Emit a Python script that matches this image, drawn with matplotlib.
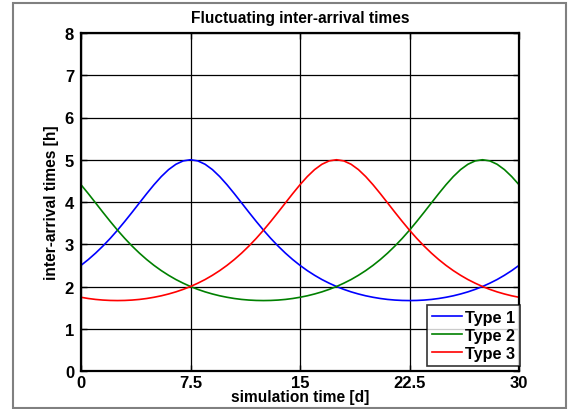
import numpy as np
import matplotlib
matplotlib.use('Agg')
import matplotlib.pyplot as plt
from matplotlib.patches import Rectangle

# inter-arrival times [h] sampled every half day over the 30 day run
t_days = [0.5 * i for i in range(61)]

type1 = [2.5, 2.638, 2.790, 2.957, 3.138, 3.333, 3.541, 3.757, 3.978, 4.198,
         4.409, 4.602, 4.767, 4.893, 4.973, 5.0, 4.973, 4.893, 4.767, 4.602,
         4.409, 4.198, 3.978, 3.757, 3.541, 3.333, 3.138, 2.957, 2.790, 2.638,
         2.5, 2.376, 2.265, 2.165, 2.078, 2.0, 1.932, 1.873, 1.823, 1.780,
         1.745, 1.716, 1.694, 1.679, 1.670, 1.667, 1.670, 1.679, 1.694, 1.716,
         1.745, 1.780, 1.823, 1.873, 1.932, 2.0, 2.078, 2.165, 2.265, 2.376,
         2.5]

type2 = [4.409, 4.198, 3.978, 3.757, 3.541, 3.333, 3.138, 2.957, 2.790, 2.638,
         2.5, 2.376, 2.265, 2.165, 2.078, 2.0, 1.932, 1.873, 1.823, 1.780,
         1.745, 1.716, 1.694, 1.679, 1.670, 1.667, 1.670, 1.679, 1.694, 1.716,
         1.745, 1.780, 1.823, 1.873, 1.932, 2.0, 2.078, 2.165, 2.265, 2.376,
         2.5, 2.638, 2.790, 2.957, 3.138, 3.333, 3.541, 3.757, 3.978, 4.198,
         4.409, 4.602, 4.767, 4.893, 4.973, 5.0, 4.973, 4.893, 4.767, 4.602,
         4.409]

type3 = [1.745, 1.716, 1.694, 1.679, 1.670, 1.667, 1.670, 1.679, 1.694, 1.716,
         1.745, 1.780, 1.823, 1.873, 1.932, 2.0, 2.078, 2.165, 2.265, 2.376,
         2.5, 2.638, 2.790, 2.957, 3.138, 3.333, 3.541, 3.757, 3.978, 4.198,
         4.409, 4.602, 4.767, 4.893, 4.973, 5.0, 4.973, 4.893, 4.767, 4.602,
         4.409, 4.198, 3.978, 3.757, 3.541, 3.333, 3.138, 2.957, 2.790, 2.638,
         2.5, 2.376, 2.265, 2.165, 2.078, 2.0, 1.932, 1.873, 1.823, 1.780,
         1.745]

series_names = ['Type 1', 'Type 2', 'Type 3']
x_ticks = [0, 7.5, 15, 22.5, 30]
x_ticklabels = ['0', '7.5', '15', '22.5', '30']
y_ticks = [0, 1, 2, 3, 4, 5, 6, 7, 8]

plt.rcParams['font.family'] = ['Liberation Sans', 'DejaVu Sans']
plt.rcParams['font.weight'] = 'bold'

W, H = 573, 410
fig = plt.figure(figsize=(W / 100, H / 100), dpi=100)
fig.patch.set_facecolor('white')
# grey frame around the figure
fig.patches.append(Rectangle((13 / W, 1 - 409 / H), 553 / W, 405 / H,
                             transform=fig.transFigure, fill=False,
                             edgecolor='#808080', linewidth=1.5))

ax = fig.add_axes([81 / W, 1 - 372 / H, 438 / W, 338 / H])
ax.plot(t_days, type1, color='#0000ff', lw=1.2, label=series_names[0])
ax.plot(t_days, type2, color='#008000', lw=1.2, label=series_names[1])
ax.plot(t_days, type3, color='#ff0000', lw=1.2, label=series_names[2])

ax.set_xlim(0, 30)
ax.set_ylim(0, 8)
ax.set_xticks(x_ticks)
ax.set_xticklabels(x_ticklabels)
ax.set_yticks(y_ticks)
ax.grid(True, color='black', linestyle='-', linewidth=0.9)
ax.set_axisbelow(True)
ax.tick_params(direction='in', length=4, width=1, labelsize=12,
               top=True, right=True)
ax.tick_params(axis='x', pad=3)
ax.tick_params(axis='y', pad=5)
for s in ax.spines.values():
    s.set_linewidth(1.6)

ax.set_title('Fluctuating inter-arrival times', fontsize=11.2, fontweight='bold', pad=8)
ax.set_xlabel('simulation time [d]', fontsize=11.2, fontweight='bold', labelpad=-1)
ax.set_ylabel('inter-arrival times [h]', fontsize=11.2, fontweight='bold', labelpad=4)

leg = ax.legend(loc='lower right', bbox_to_anchor=(1.002, 5 / 338), fontsize=11.7,
                frameon=True, fancybox=False, borderaxespad=0.0,
                handlelength=1.9, handletextpad=0.15,
                labelspacing=0.2, borderpad=0.3)
leg.get_frame().set_edgecolor('black')
leg.get_frame().set_linewidth(1.2)

fig.savefig('out.png', dpi=100)
